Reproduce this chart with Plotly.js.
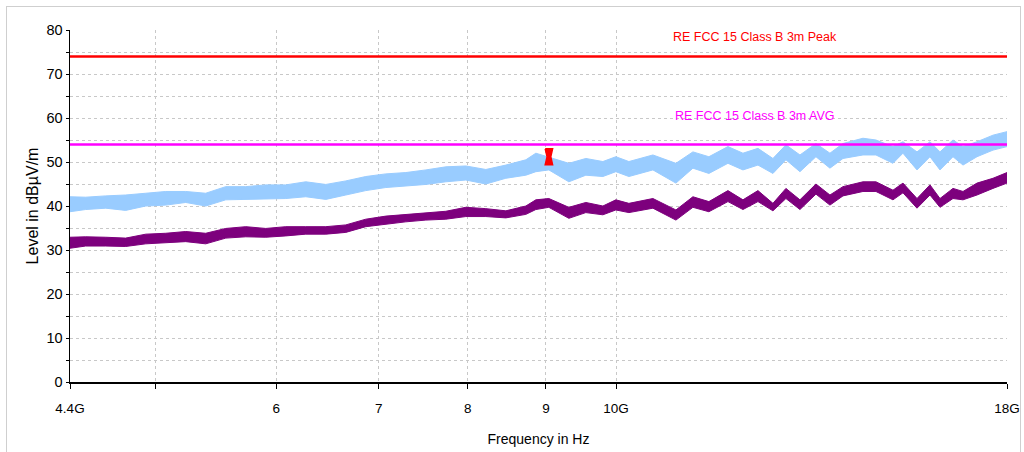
<!DOCTYPE html>
<html>
<head>
<meta charset="utf-8">
<script src="https://cdn.plot.ly/plotly-3.0.1.min.js"></script>
<style>
  html, body { margin: 0; padding: 0; background: #ffffff; }
  #wrap { position: relative; width: 1024px; height: 452px; overflow: hidden; }
  #chart { position: absolute; left: 0; top: 0; width: 1024px; height: 452px; }
  #frame { position: absolute; left: 6px; top: 6px; width: 1013px; height: 470px;
           border: 1px solid #cfcfcf; pointer-events: none; }
</style>
</head>
<body>
<div id="wrap">
  <div id="chart"></div>
  <div id="frame"></div>
</div>
<script>
// Scan frequencies (GHz)
const freqGHz = [4.400, 4.505, 4.643, 4.784, 4.931, 5.081, 5.236, 5.396, 5.561, 5.731,
  5.906, 6.086, 6.272, 6.464, 6.661, 6.864, 7.074, 7.290, 7.513, 7.742,
  7.978, 8.222, 8.473, 8.732, 8.864, 9.039, 9.315, 9.556, 9.804, 9.997,
  10.195, 10.570, 10.942, 11.225, 11.498, 11.832, 12.102, 12.378, 12.660, 12.910,
  13.185, 13.506, 13.793, 14.066, 14.495, 14.781, 15.164, 15.394, 15.722, 16.032,
  16.275, 16.596, 16.848, 17.206, 17.625, 18.000];

// Peak detector trace: upper / lower envelope of the noise band (dBµV/m)
const peakHigh = [42.1, 42.0, 42.3, 42.5, 42.9, 43.3, 43.3, 42.9, 44.4, 44.4,
  44.8, 44.8, 45.5, 44.9, 45.7, 46.7, 47.3, 47.6, 48.2, 48.9,
  49.1, 48.3, 49.3, 50.5, 52.0, 51.1, 49.7, 50.8, 50.1, 51.2,
  50.1, 51.6, 49.7, 52.3, 51.2, 53.5, 52.0, 53.1, 50.8, 53.9,
  51.6, 54.2, 52.0, 54.2, 55.4, 55.0, 53.5, 54.6, 52.3, 54.6,
  52.3, 55.0, 53.5, 54.6, 56.1, 56.9];
const peakLow = [38.7, 39.2, 39.5, 39.0, 40.0, 40.2, 40.8, 40.0, 41.4, 41.5,
  41.7, 41.7, 42.1, 41.5, 42.5, 43.5, 44.2, 44.6, 44.9, 45.5,
  45.9, 45.0, 46.3, 47.0, 47.8, 48.2, 45.5, 47.0, 46.7, 47.8,
  46.7, 48.2, 45.2, 48.6, 47.4, 49.7, 48.2, 49.3, 47.4, 50.5,
  47.8, 51.2, 48.6, 50.8, 51.6, 51.6, 49.7, 52.0, 48.2, 51.2,
  48.2, 51.2, 49.3, 51.2, 52.7, 53.5];

// Average detector trace: upper / lower envelope (dBµV/m)
const avgHigh = [32.9, 33.0, 32.9, 32.7, 33.6, 33.8, 34.2, 33.8, 34.9, 35.3,
  34.9, 35.3, 35.3, 35.3, 35.7, 37.0, 37.7, 38.1, 38.5, 38.8,
  39.7, 39.4, 38.9, 40.0, 41.4, 41.7, 39.7, 40.8, 40.0, 41.4,
  40.6, 41.7, 39.1, 42.1, 41.0, 43.5, 41.4, 43.5, 40.6, 44.0,
  41.4, 45.0, 42.5, 44.4, 45.5, 45.5, 43.6, 45.2, 41.7, 44.8,
  41.7, 44.0, 43.3, 45.2, 46.3, 47.6];
const avgLow = [30.4, 30.9, 30.9, 30.8, 31.4, 31.7, 31.9, 31.4, 32.7, 33.0,
  32.9, 33.2, 33.6, 33.6, 34.0, 35.3, 35.9, 36.4, 36.8, 37.0,
  37.6, 37.6, 37.3, 38.1, 39.2, 39.7, 37.2, 38.5, 38.0, 39.1,
  38.5, 39.5, 36.8, 39.7, 38.7, 41.0, 39.2, 41.0, 38.9, 41.7,
  39.2, 42.7, 40.2, 42.3, 43.3, 43.3, 41.4, 43.0, 39.5, 42.5,
  39.7, 41.7, 41.4, 42.5, 44.0, 45.2];

// Limit lines
const limitFreq = [4.4, 18];
const limitPeak = [74, 74];
const limitAvg = [54, 54];
const limitPeakName = 'RE FCC 15 Class B 3m Peak';
const limitAvgName = 'RE FCC 15 Class B 3m AVG';

// Peak marker outline near 9 GHz
const markerFreq = [8.99, 9.09, 9.065, 9.09, 8.99, 9.015, 8.99];
const markerLevel = [53.0, 53.0, 51.2, 49.4, 49.4, 51.2, 53.0];

// Axis ticks
const xTickVals = [4.4, 5, 6, 7, 8, 9, 10, 18];
const xTickText = ['4.4G', '', '6', '7', '8', '9', '10G', '18G'];
const yTickVals = [0, 5, 10, 15, 20, 25, 30, 35, 40, 45, 50, 55, 60, 65, 70, 75, 80];
const yTickText = yTickVals.map(v => (v % 10 === 0 ? String(v) : ''));

const SANS = '"Liberation Sans", Arial, sans-serif';
const BLUE = '#99ccff';
const PURPLE = '#7d007d';

function band(low, high, color) {
  return [
    { x: freqGHz, y: low, type: 'scatter', mode: 'lines',
      line: { color: color, width: 1 }, hoverinfo: 'skip', showlegend: false },
    { x: freqGHz, y: high, type: 'scatter', mode: 'lines', fill: 'tonexty',
      fillcolor: color, line: { color: color, width: 1 }, hoverinfo: 'skip', showlegend: false }
  ];
}

const traces = [
  ...band(peakLow, peakHigh, BLUE),
  ...band(avgLow, avgHigh, PURPLE),
  { x: limitFreq, y: limitAvg, type: 'scatter', mode: 'lines', name: limitAvgName,
    line: { color: '#ff00ff', width: 2.5 }, showlegend: false },
  { x: limitFreq, y: limitPeak, type: 'scatter', mode: 'lines', name: limitPeakName,
    line: { color: '#ff0000', width: 2.5 }, showlegend: false },
  { x: markerFreq, y: markerLevel, type: 'scatter', mode: 'lines', fill: 'toself',
    fillcolor: '#ff0000', line: { color: '#ff0000', width: 1.5 }, showlegend: false }
];

const layout = {
  width: 1024, height: 452,
  margin: { l: 70, r: 17, t: 30, b: 70 },
  paper_bgcolor: '#ffffff', plot_bgcolor: '#ffffff',
  showlegend: false,
  font: { family: SANS, color: '#000000' },
  xaxis: {
    type: 'log',
    range: [Math.log10(4.4), Math.log10(18)],
    tickvals: xTickVals, ticktext: xTickText,
    tickfont: { family: SANS, size: 13.5, color: '#000' },
    ticks: 'outside', ticklen: 5, tickcolor: '#000', tickwidth: 1,
    ticklabelstandoff: 8,
    showline: true, linecolor: '#000', linewidth: 2,
    showgrid: true, gridcolor: '#c8c8c8', griddash: 'dot', gridwidth: 1,
    zeroline: false,
    title: { text: 'Frequency in Hz', font: { family: SANS, size: 14, color: '#000' }, standoff: 19 }
  },
  yaxis: {
    range: [0, 80],
    tickvals: yTickVals, ticktext: yTickText,
    tickfont: { family: SANS, size: 14.5, color: '#000' },
    ticks: 'outside', ticklen: 3, tickcolor: '#000', tickwidth: 1,
    showline: true, linecolor: '#000', linewidth: 1.5,
    showgrid: true, gridcolor: '#c8c8c8', griddash: 'dot', gridwidth: 1,
    zeroline: false,
    title: { text: 'Level in dBµV/m', font: { family: SANS, size: 16, color: '#000' }, standoff: 4 }
  },
  annotations: [
    { text: limitPeakName, xref: 'paper', yref: 'paper', x: 0.731, y: 0.980,
      xanchor: 'center', yanchor: 'middle', showarrow: false,
      font: { family: SANS, size: 12.5, color: '#ff0000' } },
    { text: limitAvgName, xref: 'paper', yref: 'paper', x: 0.731, y: 0.756,
      xanchor: 'center', yanchor: 'middle', showarrow: false,
      font: { family: SANS, size: 12.5, color: '#ff00ff' } }
  ]
};

Plotly.newPlot('chart', traces, layout, { staticPlot: true, displayModeBar: false });
</script>
</body>
</html>
